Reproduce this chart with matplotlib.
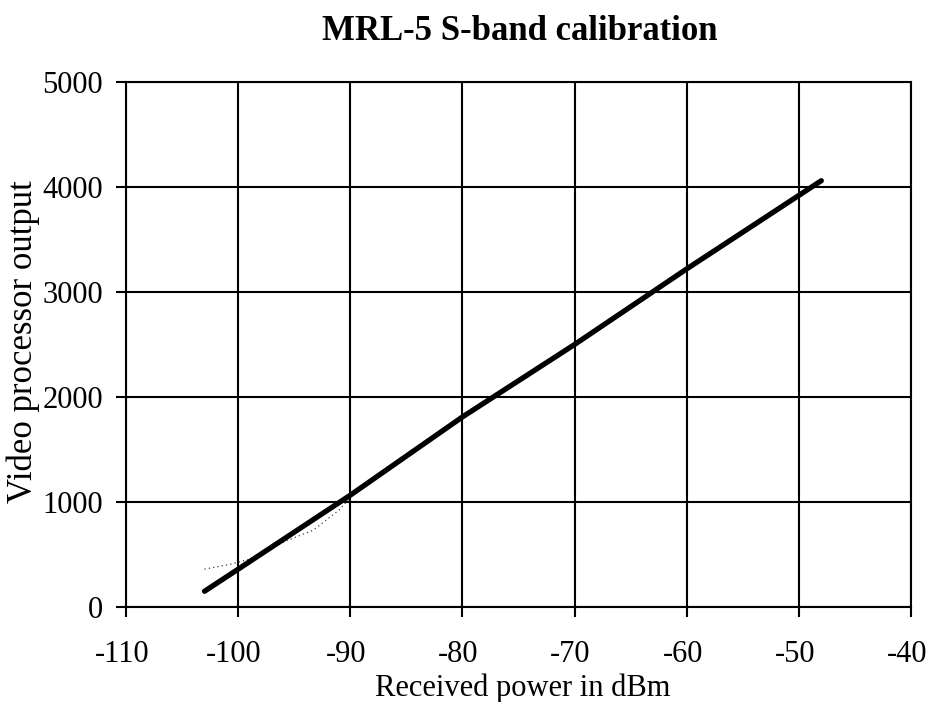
import matplotlib
matplotlib.use("Agg")
import matplotlib.pyplot as plt
from matplotlib.transforms import ScaledTranslation

# Data
power_fit = [-103, -100, -90, -80, -70, -60, -50, -48]
output_fit = [150, 360, 1065, 1810, 2500, 3220, 3920, 4060]

power_meas = [-103, -100.7, -99, -97, -95.7, -93.3, -90.9, -90]
output_meas = [360, 407, 455, 560, 630, 732, 932, 1045]

x_ticks = [-110, -100, -90, -80, -70, -60, -50, -40]
y_ticks = [0, 1000, 2000, 3000, 4000, 5000]

plt.rcParams['font.family'] = ['Liberation Serif', 'DejaVu Serif']

fig = plt.figure(figsize=(9.29, 7.02), dpi=100)
ax = fig.add_axes([126/929, 1-607/702, (911-126)/929, (607-82)/702])

ax.plot(power_meas, output_meas, color='#444444', lw=0.9, ls=(0, (1, 2.5)))
ax.plot(power_fit, output_fit, color='black', lw=3.8, solid_capstyle='round')

ax.set_xlim(-110, -40)
ax.set_ylim(0, 5000)
ax.set_xticks(x_ticks)
ax.set_yticks(y_ticks)
ax.set_xticklabels([str(v) for v in x_ticks])
ax.set_yticklabels([str(v) for v in y_ticks])
ax.grid(True, color='black', lw=1.5)
ax.set_axisbelow(True)
for s in ax.spines.values():
    s.set_color('black')
    s.set_linewidth(1.5)
ax.tick_params(axis='both', direction='out', length=7.5, width=1.5, labelsize=22)
ax.tick_params(axis='x', pad=16)
ax.tick_params(axis='y', pad=9)

shift = ScaledTranslation(-4/100, 0, fig.dpi_scale_trans)
for lbl in ax.get_xticklabels():
    lbl.set_transform(lbl.get_transform() + shift)

ax.set_xlabel('Received power in dBm', fontsize=22)
ax.xaxis.label.set_va('center')
ax.xaxis.set_label_coords(0.5 + 4/785, (607 - 688) / 525)
ax.set_ylabel('Video processor output', fontsize=25)
ax.yaxis.label.set_va('center')
ax.yaxis.set_label_coords((23 - 126) / 785, (607 - 342) / 525)

fig.text(520 / 929, 1 - 31/702, 'MRL-5 S-band calibration',
         ha='center', va='center', fontsize=25, fontweight='bold')

fig.savefig('out.png', dpi=100, facecolor='white')
